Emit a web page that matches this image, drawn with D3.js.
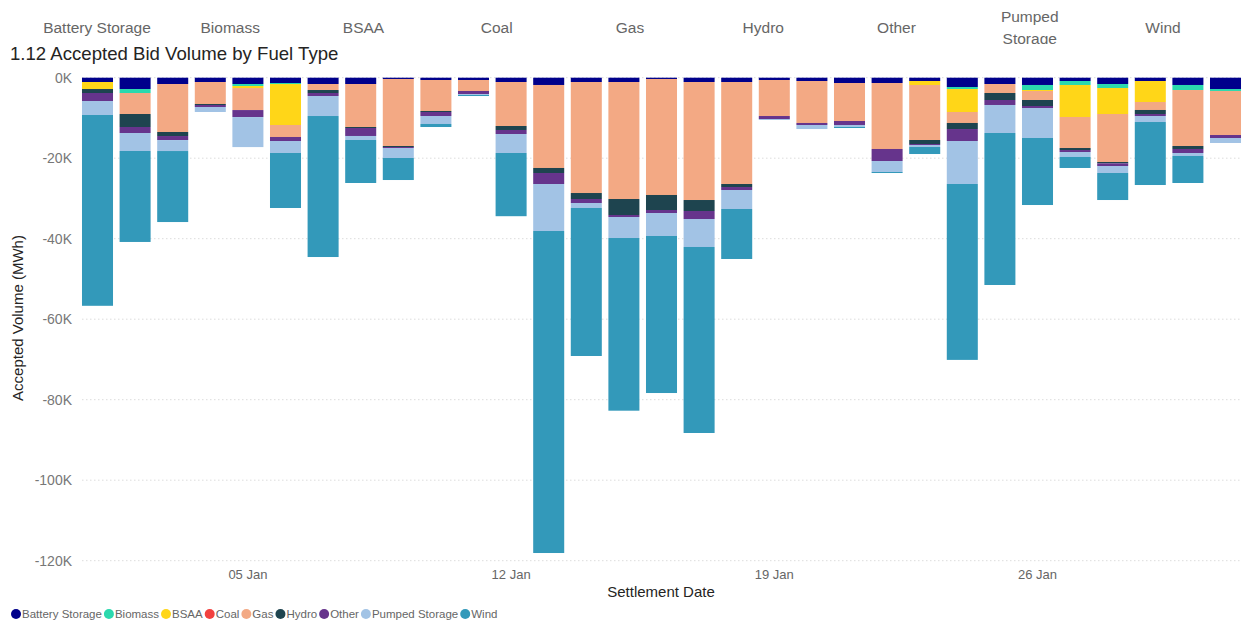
<!DOCTYPE html>
<html>
<head>
<meta charset="utf-8">
<script src="https://cdn.jsdelivr.net/npm/d3@7"></script>
<style>
  html, body { margin: 0; padding: 0; background: #fff; }
  svg { display: block; font-family: "Liberation Sans", Arial, sans-serif; }
</style>
</head>
<body>
<svg id="chart" width="1246" height="624"></svg>
<script>
// ---- data (MWh, accepted bid volumes are negative) ----
const fuelTypes = ["Battery Storage", "Biomass", "BSAA", "Coal", "Gas", "Hydro", "Other", "Pumped Storage", "Wind"];
const colors = ["#00008B", "#2BD9AE", "#FFD618", "#F2413F", "#F3A984", "#1E444F", "#66348C", "#A2C3E5", "#3399BA"];
const dates = d3.range(1, 32).map(d => new Date(2024, 0, d));
const batteryStorage = [-1070,-2810,-1570,-1070,-1570,-1320,-1570,-1570,-320,-570,-570,-1070,-1810,-1070,-1070,-320,-1070,-1070,-570,-820,-1320,-1320,-820,-2310,-1570,-1810,-820,-1570,-820,-1810,-2810];
const biomass        = [0,-990,0,0,-500,-250,0,0,0,0,0,0,0,0,0,0,0,0,0,0,0,0,0,-500,0,-1250,-990,-990,0,-1250,-490];
const bsaa           = [-1740,0,0,0,-500,-10180,0,0,0,0,0,0,0,0,0,0,0,0,0,0,0,0,-990,-5710,0,-240,-7950,-6460,-5220,0,0];
const coal           = [0,0,0,0,0,0,0,0,0,0,0,0,0,0,0,0,0,0,0,0,0,0,0,0,0,0,0,0,0,0,0];
const gas            = [0,-5220,-11920,-5460,-5470,-2980,-1490,-10680,-16650,-7700,-2730,-10930,-20620,-27580,-29070,-28820,-29320,-25340,-8950,-10430,-9440,-16390,-13670,-2730,-2230,-2240,-7710,-11920,-1980,-13910,-10940];
const hydro          = [-990,-3230,-1000,-250,0,0,-740,-250,-250,-250,0,-990,-1250,-1490,-3970,-3730,-2730,-750,0,0,0,0,-990,-1500,-1740,-1490,-500,-340,-1000,-740,0];
const other          = [-1990,-1490,-1000,-500,-1740,-1000,-750,-1980,-250,-1000,-750,-1000,-2730,-990,-500,-750,-1990,-740,-740,-500,-990,-2990,-250,-2980,-1240,-500,-490,-660,-500,-1000,-740];
const pumpedStorage  = [-3480,-4470,-2730,-1240,-7460,-2980,-4970,-1000,-2480,-1980,-250,-4720,-11680,-1240,-5220,-5710,-6950,-4720,-250,-1000,-500,-2730,-500,-10680,-6960,-7450,-1240,-1740,-1490,-740,-1240];
const wind           = [-47400,-22600,-17640,0,0,-13660,-35030,-10680,-5470,-750,-250,-15700,-80000,-36770,-42900,-39010,-46210,-12420,0,0,-250,-250,-1740,-43700,-37760,-16650,-2730,-6710,-15650,-6710,0];
const yTicks = [0, -20000, -40000, -60000, -80000, -100000, -120000];
const xTickDates = [5, 12, 19, 26].map(d => new Date(2024, 0, d));
const seriesValues = [batteryStorage, biomass, bsaa, coal, gas, hydro, other, pumpedStorage, wind];

// ---- build table ----
const table = dates.map((dt, i) => {
  const row = { date: dt };
  fuelTypes.forEach((f, k) => row[f] = seriesValues[k][i]);
  return row;
});

const svg = d3.select("#chart");
const grayText = "#666666";

// header slicer-like labels
const header = svg.append("g");
header.append("clipPath").attr("id", "hclip").append("rect").attr("x", 0).attr("y", 0).attr("width", 1246).attr("height", 44);
const hg = header.append("g").attr("clip-path", "url(#hclip)");
const headerX = d3.scalePoint().domain(fuelTypes).range([97, 1163]);
fuelTypes.forEach(f => {
  const t = hg.append("text").attr("x", headerX(f)).attr("text-anchor", "middle")
    .attr("fill", grayText).attr("font-size", 15.5);
  if (f === "Pumped Storage") {
    t.append("tspan").attr("x", headerX(f)).attr("y", 22).text("Pumped");
    t.append("tspan").attr("x", headerX(f)).attr("y", 44).text("Storage");
  } else {
    t.attr("y", 33).text(f);
  }
});

// title
svg.append("text").attr("x", 10).attr("y", 60).attr("font-size", 18.6).attr("fill", "#252423")
  .text("1.12 Accepted Bid Volume by Fuel Type");

// scales
const x = d3.scaleBand().domain(dates.map(d => +d)).range([78.7, 1244.3]).paddingInner(0.175).paddingOuter(0.0875);
const y = d3.scaleLinear().domain([-120000, 0]).range([560.7, 77.7]);

// gridlines
svg.append("g").selectAll("line").data(yTicks).join("line")
  .attr("x1", 82).attr("x2", 1241)
  .attr("y1", d => y(d)).attr("y2", d => y(d))
  .attr("stroke", "#dcdcdc").attr("stroke-width", 1).attr("stroke-dasharray", "1.5,2.5");

// y axis
const yAxis = d3.axisLeft(y).tickValues(yTicks).tickSize(0).tickPadding(0)
  .tickFormat(d => (d / 1000) + "K");
const yg = svg.append("g").attr("transform", "translate(72,0)").call(yAxis);
yg.select(".domain").remove();
yg.selectAll("text").attr("font-size", 14).attr("fill", "#777").attr("font-family", "Liberation Sans, Arial, sans-serif");

svg.append("text").attr("transform", "translate(23,318) rotate(-90)").attr("text-anchor", "middle")
  .attr("font-size", 15).attr("fill", "#252423").text("Accepted Volume (MWh)");

// stack
const stack = d3.stack().keys(fuelTypes).offset(d3.stackOffsetDiverging);
const series = stack(table);
svg.append("g").selectAll("g").data(series).join("g")
  .attr("fill", (s, i) => colors[i])
  .selectAll("rect").data(s => s).join("rect")
  .attr("x", d => x(+d.data.date))
  .attr("width", x.bandwidth())
  .attr("y", d => y(Math.max(d[0], d[1])))
  .attr("height", d => Math.abs(y(d[0]) - y(d[1])));

// x axis
const xAxis = d3.axisBottom(x).tickValues(xTickDates.map(d => +d)).tickSize(0).tickPadding(0)
  .tickFormat(d => d3.timeFormat("%d %b")(new Date(d)));
const xg = svg.append("g").attr("transform", "translate(0,570)").call(xAxis);
xg.select(".domain").remove();
xg.selectAll("text").attr("font-size", 13).attr("fill", "#666").attr("font-family", "Liberation Sans, Arial, sans-serif");

svg.append("text").attr("x", 661).attr("y", 597).attr("text-anchor", "middle")
  .attr("font-size", 15).attr("fill", "#252423").text("Settlement Date");

// legend
const lg = svg.append("g");
let lx = 16;
fuelTypes.forEach((f, i) => {
  lg.append("circle").attr("cx", lx).attr("cy", 614).attr("r", 5).attr("fill", colors[i]);
  const t = lg.append("text").attr("x", lx + 6).attr("y", 618).attr("font-size", 11.5).attr("fill", "#666").text(f);
  const w = t.node().getComputedTextLength();
  lx = lx + 6 + w + 7;
});
</script>
</body>
</html>
